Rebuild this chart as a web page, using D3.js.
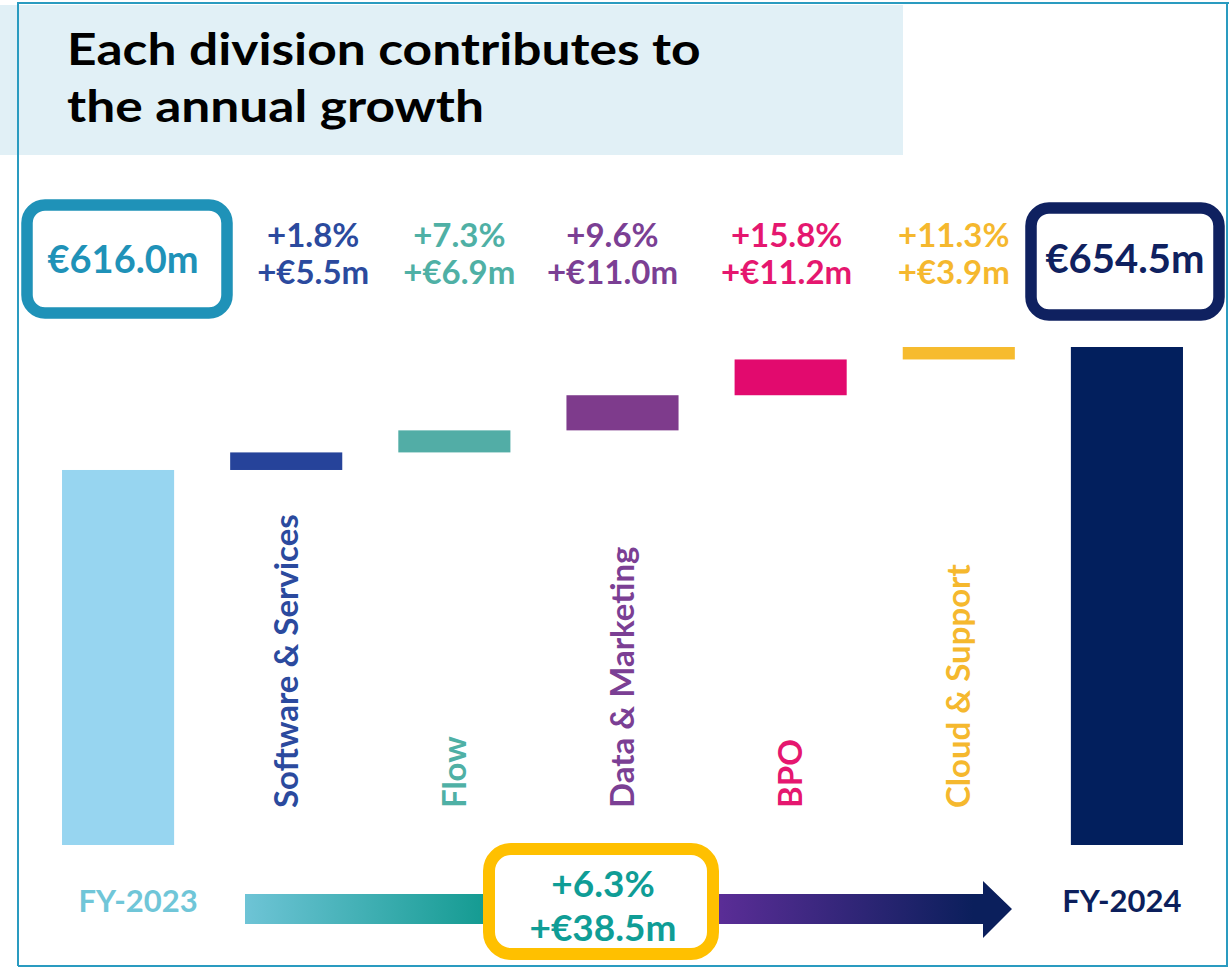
<!DOCTYPE html>
<html>
<head>
<meta charset="utf-8">
<script src="https://cdn.jsdelivr.net/npm/d3@7"></script>
<style>
  body { margin: 0; background: #fff; }
  svg text { font-family: Lato, "Open Sans", sans-serif; font-weight: 700; }
</style>
</head>
<body>
<svg id="chart" width="1229" height="969"></svg>
<script>
// waterfall: FY-2023 -> divisions -> FY-2024

var startLabel = 'FY-2023';
var endLabel = 'FY-2024';
var startValue = 616.0;
var endValue = 654.5;
var divisions = ['Software & Services', 'Flow', 'Data & Marketing', 'BPO', 'Cloud & Support'];
var deltas = [5.5, 6.9, 11.0, 11.2, 3.9];
var pctLabels = ['+1.8%', '+7.3%', '+9.6%', '+15.8%', '+11.3%'];
var valLabels = ['+€5.5m', '+€6.9m', '+€11.0m', '+€11.2m', '+€3.9m'];
var totalPct = '+6.3%';
var totalVal = '+€38.5m';
var axisFloor = 498.6; // bars do not start at zero in the original

var divColors = ['#26439a', '#52ada6', '#7e3b8c', '#e20a6e', '#f6bb2f'];
var divText = ['#2b4a9e', '#4fb0a5', '#7b3f94', '#e5176f', '#f5b82e'];
// small shifts of the labels above each column, as in the slide
var labelShift = [27, 5, -10, -4, -5];

var svg = d3.select('#chart');

// title block
svg.append('rect').attr('x', 0).attr('y', 5).attr('width', 903).attr('height', 150).attr('fill', '#e1f0f6');
var title = svg.append('g').attr('transform', 'translate(67,0) scale(1.17,1)');
title.append('text').attr('x', 0).attr('y', 65).attr('font-size', 44).attr('fill', '#000')
    .text('Each division contributes to');
title.append('text').attr('x', 0).attr('y', 122).attr('font-size', 44).attr('fill', '#000')
    .text('the annual growth');

// frame
var frame = svg.append('g').attr('stroke', '#2a9bc0').attr('stroke-width', 2).attr('fill', 'none');
frame.append('path').attr('d', 'M18,966 L18,3 L1229,3');
frame.append('path').attr('d', 'M1227,3 L1227,966 L18,966');

var cats = [startLabel].concat(divisions).concat([endLabel]);
var x = d3.scaleBand().domain(cats).range([34, 1211]).paddingInner(1 / 3).paddingOuter(1 / 6);
var y = d3.scaleLinear().domain([axisFloor, endValue]).range([845, 347]);

// build waterfall steps
var steps = [];
var run = startValue;
steps.push({ cat: startLabel, lo: axisFloor, hi: startValue, color: '#97d5f0' });
divisions.forEach(function(d, i) {
    steps.push({ cat: d, lo: run, hi: run + deltas[i], color: divColors[i] });
    run += deltas[i];
});
steps.push({ cat: endLabel, lo: axisFloor, hi: endValue, color: '#021f5d' });

svg.append('g').selectAll('rect')
    .data(steps)
    .enter().append('rect')
        .attr('x', function(d) { return x(d.cat); })
        .attr('width', x.bandwidth())
        .attr('y', function(d) { return y(d.hi); })
        .attr('height', function(d) { return y(d.lo) - y(d.hi); })
        .attr('fill', function(d) { return d.color; });

// rotated division names
svg.append('g').selectAll('text')
    .data(divisions)
    .enter().append('text')
        .attr('transform', function(d) {
            return 'translate(' + (x(d) + x.bandwidth() / 2) + ',808) rotate(-90)';
        })
        .attr('dy', '0.35em')
        .attr('font-size', 33)
        .attr('fill', function(d, i) { return divText[i]; })
        .text(function(d) { return d; });

// growth labels above the columns
var lab = svg.append('g').selectAll('g')
    .data(divisions)
    .enter().append('g')
        .attr('transform', function(d, i) {
            return 'translate(' + (x(d) + x.bandwidth() / 2 + labelShift[i]) + ',0)';
        })
        .attr('fill', function(d, i) { return divText[i]; })
        .attr('text-anchor', 'middle')
        .attr('font-size', 33);
lab.append('text').attr('y', 247).text(function(d, i) { return pctLabels[i]; });
lab.append('text').attr('y', 284).text(function(d, i) { return valLabels[i]; });

// total boxes
function totalBox(cx, x0, y0, w, h, color, size, label) {
    svg.append('rect').attr('x', x0).attr('y', y0).attr('width', w).attr('height', h)
        .attr('rx', 18).attr('fill', '#fff').attr('stroke', color).attr('stroke-width', 11.5);
    svg.append('text').attr('x', cx).attr('y', 273).attr('text-anchor', 'middle')
        .attr('font-size', size).attr('fill', color).text(label);
}
totalBox(x(startLabel) + x.bandwidth() / 2 + 5, 27, 205, 200, 108, '#1f92b8', 38, '€' + startValue.toFixed(1) + 'm');
totalBox(x(endLabel) + x.bandwidth() / 2 - 2, 1031, 208, 188, 107, '#0f2160', 40, '€' + endValue.toFixed(1) + 'm');

// year labels
svg.append('text').attr('x', x(startLabel) + x.bandwidth() / 2 + 20).attr('y', 912)
    .attr('text-anchor', 'middle').attr('font-size', 31).attr('fill', '#70c6d8').text(startLabel);
svg.append('text').attr('x', x(endLabel) + x.bandwidth() / 2 - 5).attr('y', 912)
    .attr('text-anchor', 'middle').attr('font-size', 31).attr('fill', '#0c1f5c').text(endLabel);

// gradient arrow
var grad = svg.append('defs').append('linearGradient').attr('id', 'arrowGrad')
    .attr('gradientUnits', 'userSpaceOnUse').attr('x1', 245).attr('x2', 1012).attr('y1', 0).attr('y2', 0);
[['0%', '#6ec4d6'], ['32%', '#129a90'], ['62%', '#5a2d96'], ['95%', '#0b1f5c'], ['100%', '#0b1f5c']]
    .forEach(function(s) { grad.append('stop').attr('offset', s[0]).attr('stop-color', s[1]); });
svg.append('path')
    .attr('d', 'M245,894 L983,894 L983,881 L1012,909 L983,938 L983,924 L245,924 Z')
    .attr('fill', 'url(#arrowGrad)');

// overall growth box
svg.append('rect').attr('x', 489).attr('y', 849).attr('width', 224).attr('height', 105)
    .attr('rx', 22).attr('fill', '#fff').attr('stroke', '#ffc000').attr('stroke-width', 12);
svg.append('text').attr('x', 603).attr('y', 897).attr('text-anchor', 'middle')
    .attr('font-size', 37).attr('fill', '#0f9d96').text(totalPct);
svg.append('text').attr('x', 603).attr('y', 941).attr('text-anchor', 'middle')
    .attr('font-size', 37).attr('fill', '#0f9d96').text(totalVal);
</script>
</body>
</html>
